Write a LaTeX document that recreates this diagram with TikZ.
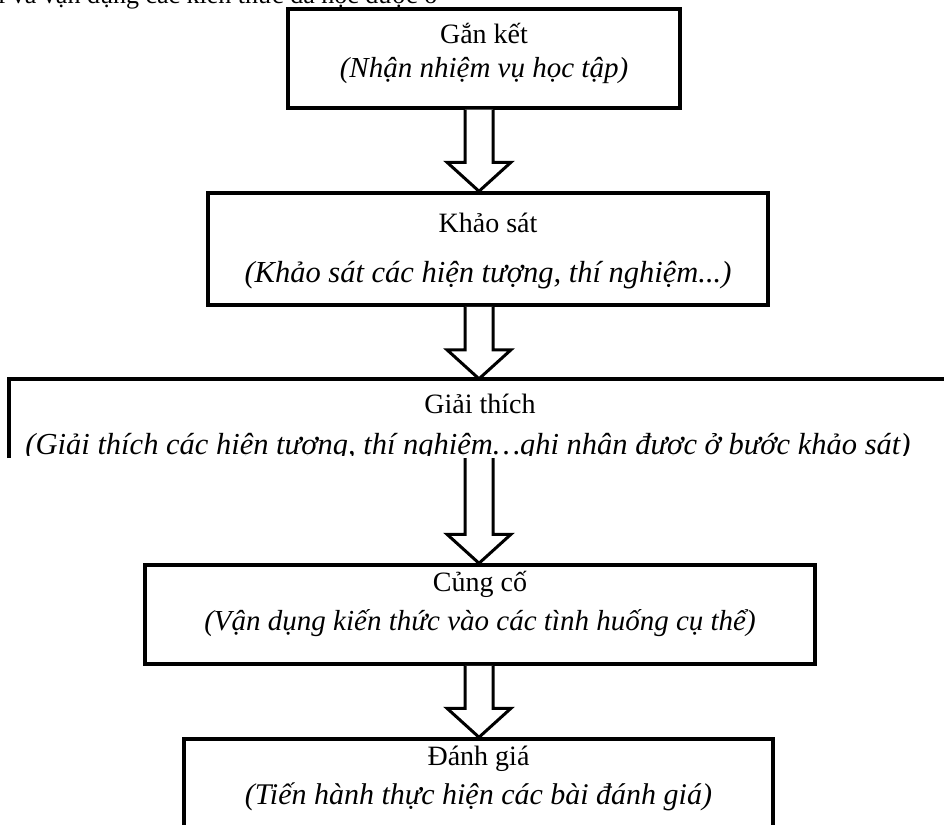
\documentclass[tikz,border=0pt]{standalone}
\usepackage{fontspec}
\setmainfont{Liberation Serif}
\usetikzlibrary{calc}

\begin{document}
\begin{tikzpicture}[x=1pt,y=-1pt,font=\fontsize{28}{34}\selectfont]
        \tikzstyle{box}=[rectangle,draw=black,line width=3.5pt,inner sep=0pt]
        \tikzstyle{title}=[anchor=base,inner sep=0pt]
        \tikzstyle{sub}=[title,font=\fontsize{29}{34}\selectfont\itshape]
        \tikzstyle{hollow}=[draw=black,fill=white,line width=3pt,line join=miter]
        \useasboundingbox (0,0) rectangle (944,824);
        \node[anchor=base west,inner sep=0pt,font=\fontsize{26}{30}\selectfont] (dong) at (-2,4) {i và vận dụng các kiến thức đã học được ở};
        \node[box,minimum width=392pt,minimum height=99pt] (ganket) at (484,58.5) {};
        \node[box,minimum width=560pt,minimum height=112pt] (khaosat) at (488,249) {};
        \node[rectangle,inner sep=0pt,minimum width=942pt,minimum height=79pt] (giaithich) at (480,418.5) {};
        \node[box,minimum width=670pt,minimum height=99pt] (cungco) at (480,614.5) {};
        \node[box,minimum width=589pt,minimum height=96pt] (danhgia) at (478.5,787) {};
        \draw[line width=3.5pt] (giaithich.south west) |- (giaithich.north east);
        % chu trong cac khung
        \node[title] (ganket-t) at ([yshift=-36pt]ganket.north) {Gắn kết};
        \node[sub] (ganket-s) at ([yshift=-70pt]ganket.north) {(Nhận nhiệm vụ học tập)};
        \node[title] (khaosat-t) at ([yshift=-41pt]khaosat.north) {Khảo sát};
        \node[sub,font=\fontsize{30.5}{34}\selectfont\itshape] (khaosat-s) at ([yshift=-91pt]khaosat.north) {(Khảo sát các hiện tượng, thí nghiệm...)};
        \node[title] (giaithich-t) at ([yshift=-35pt]giaithich.north) {Giải thích};
        \begin{scope}
          \clip (0,379) rectangle (944,455);
          \node[sub,font=\fontsize{30.5}{34}\selectfont\itshape] (giaithich-s) at ([xshift=-12pt,yshift=-76pt]giaithich.north) {(Giải thích các hiện tượng, thí nghiệm…ghi nhận được ở bước khảo sát)};
        \end{scope}
        \node[title] (cungco-t) at ([yshift=-28pt]cungco.north) {Củng cố};
        \node[sub] (cungco-s) at ([yshift=-67pt]cungco.north) {(Vận dụng kiến thức vào các tình huống cụ thể)};
        \node[title] (danhgia-t) at ([yshift=-28pt]danhgia.north) {Đánh giá};
        \node[sub,font=\fontsize{30}{34}\selectfont\itshape] (danhgia-s) at ([yshift=-67pt]danhgia.north) {(Tiến hành thực hiện các bài đánh giá)};
        % mui ten rong
        \foreach \a/\b in {ganket/khaosat,khaosat/giaithich,giaithich/cungco,cungco/danhgia}
          \draw[hollow] let \p1=(\a.south), \p2=(\b.north) in
            (465pt,\y1) -- (465pt,\y2+29pt) -- (447pt,\y2+29pt) -- (479pt,\y2)
            -- (511pt,\y2+29pt) -- (493pt,\y2+29pt) -- (493pt,\y1);
\end{tikzpicture}
\end{document}
